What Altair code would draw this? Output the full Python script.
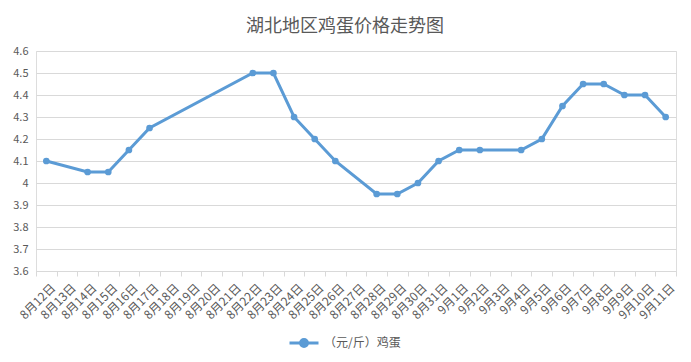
import altair as alt
import pandas as pd

dates = ["8月12日", "8月13日", "8月14日", "8月15日", "8月16日", "8月17日", "8月18日",
         "8月19日", "8月20日", "8月21日", "8月22日", "8月23日", "8月24日", "8月25日",
         "8月26日", "8月27日", "8月28日", "8月29日", "8月30日", "8月31日", "9月1日",
         "9月2日", "9月3日", "9月4日", "9月5日", "9月6日", "9月7日", "9月8日",
         "9月9日", "9月10日", "9月11日"]
prices = [4.1, None, 4.05, 4.05, 4.15, 4.25, None,
          None, None, None, 4.5, 4.5, 4.3, 4.2,
          4.1, None, 3.95, 3.95, 4.0, 4.1, 4.15,
          4.15, None, 4.15, 4.2, 4.35, 4.45, 4.45,
          4.4, 4.4, 4.3]
y_ticks = [3.6, 3.7, 3.8, 3.9, 4.0, 4.1, 4.2, 4.3, 4.4, 4.5, 4.6]
series_name = "（元/斤）鸡蛋"

df = pd.DataFrame({"date": dates, "price": prices, "series": series_name})
df = df.dropna()

FONT = "Noto Sans CJK SC"
GRAY = "#595959"
BLUE = "#5b9bd5"

x_enc = alt.X("date:O", sort=dates,
              scale=alt.Scale(domain=dates, paddingInner=0, paddingOuter=0),
              axis=alt.Axis(title=None, labelAngle=-45, tickBand="extent", grid=False,
                            domainColor="#d9d9d9", tickColor="#d9d9d9", tickSize=5,
                            labelColor=GRAY, labelFont=FONT, labelFontSize=12,
                            labelPadding=6, labelOffset=3))
y_enc = alt.Y("price:Q", scale=alt.Scale(domain=[3.6, 4.6], nice=False, zero=False),
              axis=alt.Axis(title=None, values=y_ticks, format=".1~f", domain=False,
                            ticks=False, gridColor="#d9d9d9", labelColor=GRAY,
                            labelFont=FONT, labelFontSize=11, labelPadding=8))
color_enc = alt.Color("series:N",
                      scale=alt.Scale(domain=[series_name], range=[BLUE]),
                      legend=alt.Legend(title=None, orient="none", legendX=252, legendY=276,
                                        symbolType="M-1,0H1M0.24,0A0.24,0.24,0,1,1,-0.24,0A0.24,0.24,0,1,1,0.24,0Z",
                                        symbolSize=841, symbolStrokeWidth=3,
                                        symbolFillColor=BLUE, symbolStrokeColor=BLUE,
                                        labelFont=FONT, labelFontSize=12, labelColor=GRAY,
                                        labelOffset=4))

line = alt.Chart(df).mark_line(strokeWidth=3).encode(x=x_enc, y=y_enc, color=color_enc)
points = alt.Chart(df).mark_point(filled=True, size=45, opacity=1).encode(
    x=x_enc, y=y_enc, color=alt.Color("series:N", scale=alt.Scale(domain=[series_name], range=[BLUE]), legend=None))

chart = alt.layer(line, points).properties(
    width=640, height=220,
    autosize=alt.AutoSizeParams(type="none"),
    padding={"left": 28, "top": 43, "right": 7, "bottom": 83},
    title=alt.TitleParams("湖北地区鸡蛋价格走势图", font=FONT, fontSize=18, fontWeight="normal",
                          color=GRAY, anchor="middle", dx=-11, offset=9),
).configure_view(stroke=None).configure(background="white")

chart.save("out.html", embed_options={"renderer": "svg", "actions": False})
